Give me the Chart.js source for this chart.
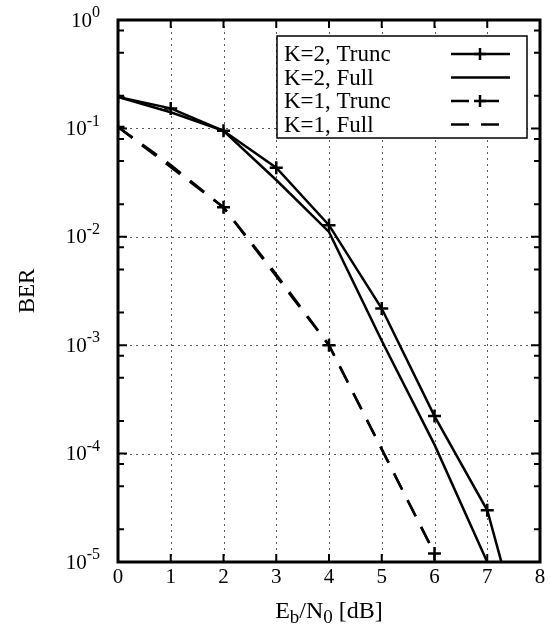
<!DOCTYPE html>
<html>
<head>
<meta charset="utf-8">
<script src="https://cdn.jsdelivr.net/npm/chart.js@4/dist/chart.umd.min.js"></script>
<style>
html, body { margin: 0; padding: 0; background: #fff; }
</style>
</head>
<body>
<canvas id="mycanvas" width="554" height="637"></canvas>
<script>
// Eb/N0 in dB and BER per curve
var ebno = [0, 1, 2, 3, 4, 5, 6, 7, 8];
var k2Trunc = [0.195, 0.153, 0.095, 0.0434, 0.0128, 0.00218, 0.000222, 0.000030, 0.0000005];
var k2Full = [0.195, 0.141, 0.095, 0.0334, 0.0111, 0.0011, 0.000121, 0.0000100];
var k1TruncX = [0, 2, 4, 6];
var k1Trunc = [0.103, 0.0187, 0.001, 0.000012];
var k1Full = [0.103, 0.046, 0.0187, 0.0045, 0.001, 0.00011, 0.000012];

var xTicks = [0, 1, 2, 3, 4, 5, 6, 7, 8];
var yMajor = [1, 0.1, 0.01, 0.001, 0.0001, 0.00001];
var yExp = ['0', '-1', '-2', '-3', '-4', '-5'];
var legendLabels = ['K=2, Trunc', 'K=2, Full', 'K=1, Trunc', 'K=1, Full'];

function pts(xs, ys) {
    var out = [];
    for (var i in ys) {
        out.push({ x: xs[i], y: ys[i] });
    }
    return out;
}

var SERIF = '"Liberation Serif", "Times New Roman", serif';
var DASH = [18, 12];

// grid, frame, tics, labels and key are drawn by hand (gnuplot look)
var gnuplotLook = {
    id: 'gnuplotLook',
    beforeDatasetsDraw: function (chart) {
        var ctx = chart.ctx, a = chart.chartArea;
        var xs = chart.scales.x, ys = chart.scales.y;
        ctx.save();
        ctx.strokeStyle = 'rgba(0,0,0,0.65)';
        ctx.lineWidth = 1;
        ctx.setLineDash([2, 4]);
        for (var i = 1; i < xTicks.length - 1; i++) {
            var px = Math.round(xs.getPixelForValue(xTicks[i])) + 0.5;
            ctx.beginPath();
            ctx.moveTo(px, a.top);
            ctx.lineTo(px, a.bottom);
            ctx.stroke();
        }
        for (var j = 1; j < yMajor.length - 1; j++) {
            var py = Math.round(ys.getPixelForValue(yMajor[j])) + 0.5;
            ctx.beginPath();
            ctx.moveTo(a.left, py);
            ctx.lineTo(a.right, py);
            ctx.stroke();
        }
        ctx.restore();
    },
    afterDatasetsDraw: function (chart) {
        var ctx = chart.ctx, a = chart.chartArea;
        var xs = chart.scales.x, ys = chart.scales.y;
        ctx.save();
        ctx.strokeStyle = '#000';
        ctx.fillStyle = '#000';
        ctx.setLineDash([]);

        // tics
        ctx.lineWidth = 2;
        for (var i = 1; i < xTicks.length - 1; i++) {
            var px = xs.getPixelForValue(xTicks[i]);
            ctx.beginPath();
            ctx.moveTo(px, a.bottom); ctx.lineTo(px, a.bottom - 8);
            ctx.moveTo(px, a.top); ctx.lineTo(px, a.top + 8);
            ctx.stroke();
        }
        for (var d = 0; d < yMajor.length; d++) {
            var mult = [1, 2, 5, 8];
            for (var m in mult) {
                var v = yMajor[d] * mult[m];
                if (v > 1 || (mult[m] == 1 && (d == 0 || d == yMajor.length - 1))) continue;
                var py = ys.getPixelForValue(v);
                var len = mult[m] == 1 ? 9 : 6;
                ctx.beginPath();
                ctx.moveTo(a.left, py); ctx.lineTo(a.left + len, py);
                ctx.moveTo(a.right, py); ctx.lineTo(a.right - len, py);
                ctx.stroke();
            }
        }

        // frame
        ctx.lineWidth = 3;
        ctx.strokeRect(a.left, a.top, a.right - a.left, a.bottom - a.top);

        // x tick labels
        ctx.font = '21px ' + SERIF;
        ctx.textAlign = 'center';
        ctx.textBaseline = 'middle';
        for (var k in xTicks) {
            ctx.fillText(String(xTicks[k]), xs.getPixelForValue(xTicks[k]), a.bottom + 15);
        }

        // y tick labels 10^n
        for (var n in yMajor) {
            var yc = ys.getPixelForValue(yMajor[n]);
            ctx.font = '21px ' + SERIF;
            var w1 = ctx.measureText('10').width;
            ctx.font = '16px ' + SERIF;
            var w2 = ctx.measureText(yExp[n]).width;
            var x0 = a.left - 18 - w1 - w2;
            ctx.textAlign = 'left';
            ctx.font = '21px ' + SERIF;
            ctx.fillText('10', x0, yc + 1);
            ctx.font = '16px ' + SERIF;
            ctx.fillText(yExp[n], x0 + w1, yc - 7);
        }

        // axis titles
        var parts = [['E', 0], ['b', 1], ['/N', 0], ['0', 1], [' [dB]', 0]];
        var total = 0;
        for (var p in parts) {
            ctx.font = (parts[p][1] ? '19px ' : '24px ') + SERIF;
            total += ctx.measureText(parts[p][0]).width;
        }
        var tx = (a.left + a.right) / 2 - total / 2;
        ctx.textBaseline = 'alphabetic';
        for (var q in parts) {
            ctx.font = (parts[q][1] ? '19px ' : '24px ') + SERIF;
            ctx.fillText(parts[q][0], tx, parts[q][1] ? 623 : 618);
            tx += ctx.measureText(parts[q][0]).width;
        }
        ctx.save();
        ctx.translate(28, (a.top + a.bottom) / 2);
        ctx.rotate(-Math.PI / 2);
        ctx.textAlign = 'center';
        ctx.textBaseline = 'middle';
        ctx.font = '23px ' + SERIF;
        ctx.fillText('BER', 0, 0);
        ctx.restore();

        // key box
        var bx = 277, by = 36, bw = 250, bh = 102;
        ctx.fillStyle = '#fff';
        ctx.fillRect(bx, by, bw, bh);
        ctx.lineWidth = 1.5;
        ctx.strokeRect(bx, by, bw, bh);
        ctx.fillStyle = '#000';
        ctx.font = '23px ' + SERIF;
        ctx.textAlign = 'left';
        ctx.textBaseline = 'middle';
        var ds = chart.data.datasets;
        for (var r = 0; r < legendLabels.length; r++) {
            var ry = 54 + r * 23.5;
            ctx.fillText(legendLabels[r], 284, ry + 1);
            ctx.lineWidth = 2.5;
            ctx.setLineDash(ds[r].borderDash || []);
            var x2 = ds[r].borderDash ? 503 : 510;
            ctx.beginPath();
            ctx.moveTo(451, ry); ctx.lineTo(x2, ry);
            ctx.stroke();
            ctx.setLineDash([]);
            if (ds[r].pointRadius > 0) {
                ctx.beginPath();
                ctx.moveTo(480, ry - 6); ctx.lineTo(480, ry + 6);
                ctx.moveTo(474, ry); ctx.lineTo(486, ry);
                ctx.stroke();
            }
        }
        ctx.restore();
    }
};

var ctx = document.getElementById('mycanvas');
var chart = new Chart(ctx, {
    type: 'line',
    data: {
        datasets: [{
            label: legendLabels[0],
            data: pts(ebno, k2Trunc),
            borderColor: '#000',
            borderWidth: 2.5,
            pointStyle: 'cross',
            pointRadius: 6.5,
            pointBorderWidth: 2.5,
            pointBorderColor: '#000'
        }, {
            label: legendLabels[1],
            data: pts(ebno, k2Full),
            borderColor: '#000',
            borderWidth: 2.5,
            pointRadius: 0
        }, {
            label: legendLabels[2],
            data: pts(k1TruncX, k1Trunc),
            borderColor: '#000',
            borderWidth: 2.5,
            borderDash: DASH,
            pointStyle: 'cross',
            pointRadius: 6.5,
            pointBorderWidth: 2.5,
            pointBorderColor: '#000'
        }, {
            label: legendLabels[3],
            data: pts(ebno, k1Full),
            borderColor: '#000',
            borderWidth: 2.5,
            borderDash: DASH,
            pointRadius: 0
        }]
    },
    options: {
        responsive: false,
        animation: false,
        devicePixelRatio: 1,
        layout: { padding: { left: 118, top: 20, right: 14, bottom: 75 } },
        elements: { line: { tension: 0, fill: false } },
        plugins: { legend: { display: false }, tooltip: { enabled: false } },
        scales: {
            x: { type: 'linear', min: 0, max: 8, display: false },
            y: { type: 'logarithmic', min: 0.00001, max: 1, display: false }
        }
    },
    plugins: [gnuplotLook]
});
</script>
</body>
</html>
